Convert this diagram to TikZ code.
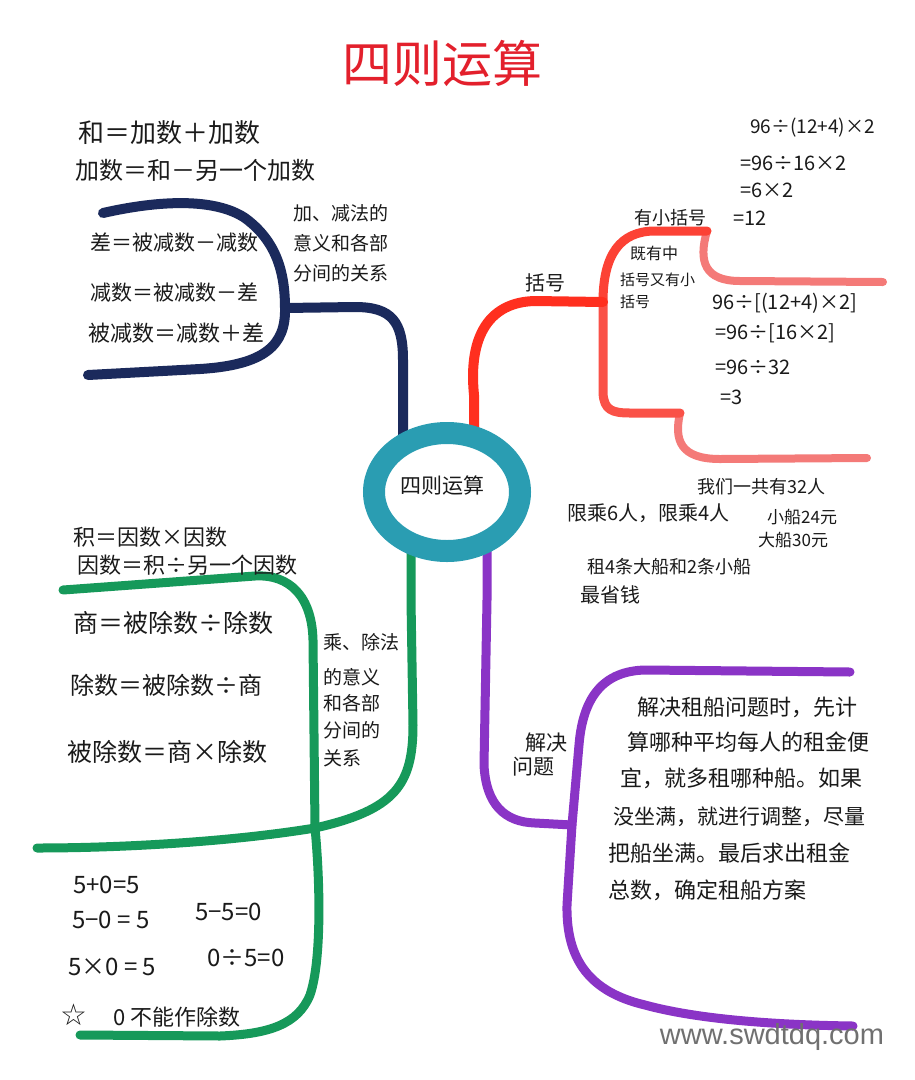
\documentclass[tikz,border=0pt]{standalone}
\usepackage{fontspec}
\newfontfamily\cjk{Noto Sans CJK SC}
\newfontfamily\dejavu{DejaVu Sans}
\newfontfamily\wmfont{Liberation Sans}
\usetikzlibrary{shapes.geometric}

\definecolor{navy}{HTML}{1B2A5C}
\definecolor{mred}{HTML}{FF2F1F}
\definecolor{mpink}{HTML}{F47A78}
\definecolor{mteal}{HTML}{2A9DB2}
\definecolor{mgreen}{HTML}{16995A}
\definecolor{mpurple}{HTML}{8A34C6}
\definecolor{titlered}{HTML}{E3202C}
\definecolor{wm}{HTML}{707070}
\definecolor{ink}{HTML}{1A1A1A}

\tikzset{
  br/.style={line width=9pt, line cap=round, line join=round},
  txt/.style={font=\cjk\fontsize{#1}{#1}\selectfont, inner sep=0pt, anchor=west, text=ink},
  txt/.default=22,
  hub/.style={ellipse, draw=mteal, line width=22pt, fill=white,
    minimum width=146pt, minimum height=118pt, inner sep=0pt, outer sep=0pt}
}

\begin{document}
\begin{tikzpicture}[x=1pt,y=-1pt]
\useasboundingbox (0,0) rectangle (915,1080);
\fill[white] (0,0) rectangle (915,1080);

% title
\node[font=\cjk\fontsize{50}{50}\selectfont, text=titlered, inner sep=0pt] (title) at (442,63) {四则运算};

% hub placeholder coordinates
\coordinate (hubc) at (447,492);
\coordinate (bB) at (403,360);
\coordinate (rB) at (474,395);
\coordinate (gB) at (411,600);
\coordinate (pB) at (487,600);

% ---------- blue branch ----------
\coordinate (jB) at (285,308);
\coordinate (bA1) at (103,213);
\coordinate (bA2) at (88,375);
\draw[br, navy, line width=10pt] (bA1) .. controls (160,200) and (215,198) .. (245,218)
  .. controls (275,240) and (285,270) .. (jB)
  .. controls (286,345) and (265,365) .. (200,369) -- (bA2);
\draw[br, navy, line width=10pt] (jB) -- (355,307) .. controls (392,307) and (403,322) .. (bB) -- (bB |- hubc);

\node[txt=26] (b1) at (78,133) {和＝加数＋加数};
\node[txt=24] (b2) at (75,170) {加数＝和－另一个加数};
\node[txt=21] (b3) at (90,243) {差＝被减数－减数};
\node[txt=21] (b4) at (90,293) {减数＝被减数－差};
\node[txt=22] (b5) at (88,333) {被减数＝减数＋差};
\node[txt=19] (b6) at (293,213) {加、减法的};
\node[txt=19] (b7) at (293,243) {意义和各部};
\node[txt=19] (b8) at (293,273) {分间的关系};

% ---------- red branch ----------
\coordinate (jR) at (603,302);
\coordinate (rT) at (707,231);
\coordinate (rTe) at (883,282);
\coordinate (rL) at (680,413);
\coordinate (rLe) at (867,458);
\draw[br, mpink, line width=8pt] (rT) .. controls (698,262) and (705,281) .. (740,281) -- (rTe);
\draw[br, mpink, line width=8pt] (rL) .. controls (674,440) and (680,459) .. (720,459) -- (rLe);
\draw[br, mred!75!mpink] (jR) .. controls (603,255) and (620,231) .. (655,231) -- (rT);
\draw[br, mred!55!mpink] (jR) -- (603,393) .. controls (604,410) and (612,413) .. (630,413) -- (rL);
\draw[br, mred, line width=10pt] (rB |- hubc) -- (rB) .. controls (468,335) and (490,302) .. (535,301) -- (jR);

\node[txt=20, anchor=center] (r1) at (545,283) {括号};
\node[txt=18, anchor=center] (r2) at (670,218) {有小括号};
\node[txt=16] (r3) at (630,253) {既有中};
\node[txt=15] (r4) at (620,280) {括号又有小};
\node[txt=15] (r5) at (620,302) {括号};

\node[txt=19] (m1) at (750,128) {96÷(12+4)×2};
\node[txt=20] (m2) at (740,163) {=96÷16×2};
\node[txt=20] (m3) at (740,190) {=6×2};
\node[txt=20] (m4) at (733,218) {=12};
\node[txt=20] (m5) at (712,303) {96÷[(12+4)×2]};
\node[txt=20] (m6) at (715,333) {=96÷[16×2]};
\node[txt=20] (m7) at (715,367) {=96÷32};
\node[txt=20] (m8) at (720,397) {=3};

% boat problem
\node[txt=18] (s1) at (697,487) {我们一共有32人};
\node[txt=20] (s2) at (567,513) {限乘6人，限乘4人};
\node[txt=17] (s3) at (767,517) {小船24元};
\node[txt=17] (s4) at (758,540) {大船30元};
\node[txt=18] (s5) at (587,567) {租4条大船和2条小船};
\node[txt=20] (s6) at (580,595) {最省钱};

% ---------- purple branch ----------
\coordinate (jP) at (572,825);
\coordinate (pT) at (850,672);
\coordinate (pE) at (853,1026);
\draw[br, mpurple] (pT) -- (645,670) .. controls (605,671) and (583,695) .. (579,745) -- (jP)
  -- (567,905) .. controls (566,960) and (590,992) .. (645,1005)
  .. controls (700,1020) and (780,1025) .. (pE);
\draw[br, mpurple] (pB |- hubc) -- (pB) -- (484,765) .. controls (486,805) and (505,822) .. (535,823) -- (jP);

\node[txt=21, anchor=center] (p1) at (546,743) {解决};
\node[txt=21, anchor=center] (p2) at (533,767) {问题};
\node[txt=22] (q1) at (637,707) {解决租船问题时，先计};
\node[txt=22] (q2) at (627,742) {算哪种平均每人的租金便};
\node[txt=22] (q3) at (620,778) {宜，就多租哪种船。如果};
\node[txt=21] (q4) at (613,817) {没坐满，就进行调整，尽量};
\node[txt=22] (q5) at (608,853) {把船坐满。最后求出租金};
\node[txt=22] (q6) at (608,890) {总数，确定租船方案};

% ---------- green branch ----------
\coordinate (jG) at (315,828);
\coordinate (gE) at (37,848);
\coordinate (gT) at (63,590);
\coordinate (gBt) at (80,1035);
\draw[br, mgreen] (gT) -- (255,576) .. controls (290,574) and (312,597) .. (313,640) -- (jG)
  .. controls (320,880) and (322,960) .. (310,995)
  .. controls (298,1024) and (270,1034) .. (220,1036) -- (gBt);
\draw[br, mgreen] (gB |- hubc) -- (gB) -- (413,725) .. controls (413,785) and (395,810) .. (jG)
  .. controls (230,842) and (120,848) .. (gE);

\node[txt=22] (g1) at (73,537) {积＝因数×因数};
\node[txt=22] (g2) at (77,565) {因数＝积÷另一个因数};
\node[txt=25] (g3) at (73,623) {商＝被除数÷除数};
\node[txt=24] (g4) at (70,685) {除数＝被除数÷商};
\node[txt=25] (g5) at (67,752) {被除数＝商×除数};
\node[txt=19] (g6) at (323,642) {乘、除法};
\node[txt=19] (g7) at (323,677) {的意义};
\node[txt=19] (g8) at (323,703) {和各部};
\node[txt=19] (g9) at (323,730) {分间的};
\node[txt=19] (g10) at (323,758) {关系};

\node[txt=24] (z1) at (73,885) {5+0=5};
\node[txt=24] (z2) at (72,920) {5−0 = 5};
\node[txt=24] (z3) at (195,912) {5−5=0};
\node[txt=24] (z4) at (68,967) {5×0 = 5};
\node[txt=24] (z5) at (207,958) {0÷5=0};
\node[font=\dejavu\fontsize{30}{30}\selectfont, text=ink, inner sep=0pt] (star) at (74,1015) {☆};
\node[txt=22] (z6) at (113,1017) {0 不能作除数};

% ---------- hub ----------
\node[hub] (hub) at (hubc) {};
\node[txt=21, anchor=center] (hubt) at (442,486) {四则运算};

% watermark
\node[font=\wmfont\fontsize{29}{29}\selectfont, text=wm, inner sep=0pt] (wmark) at (772,1037) {www.swdtdq.com};
\end{tikzpicture}
\end{document}
